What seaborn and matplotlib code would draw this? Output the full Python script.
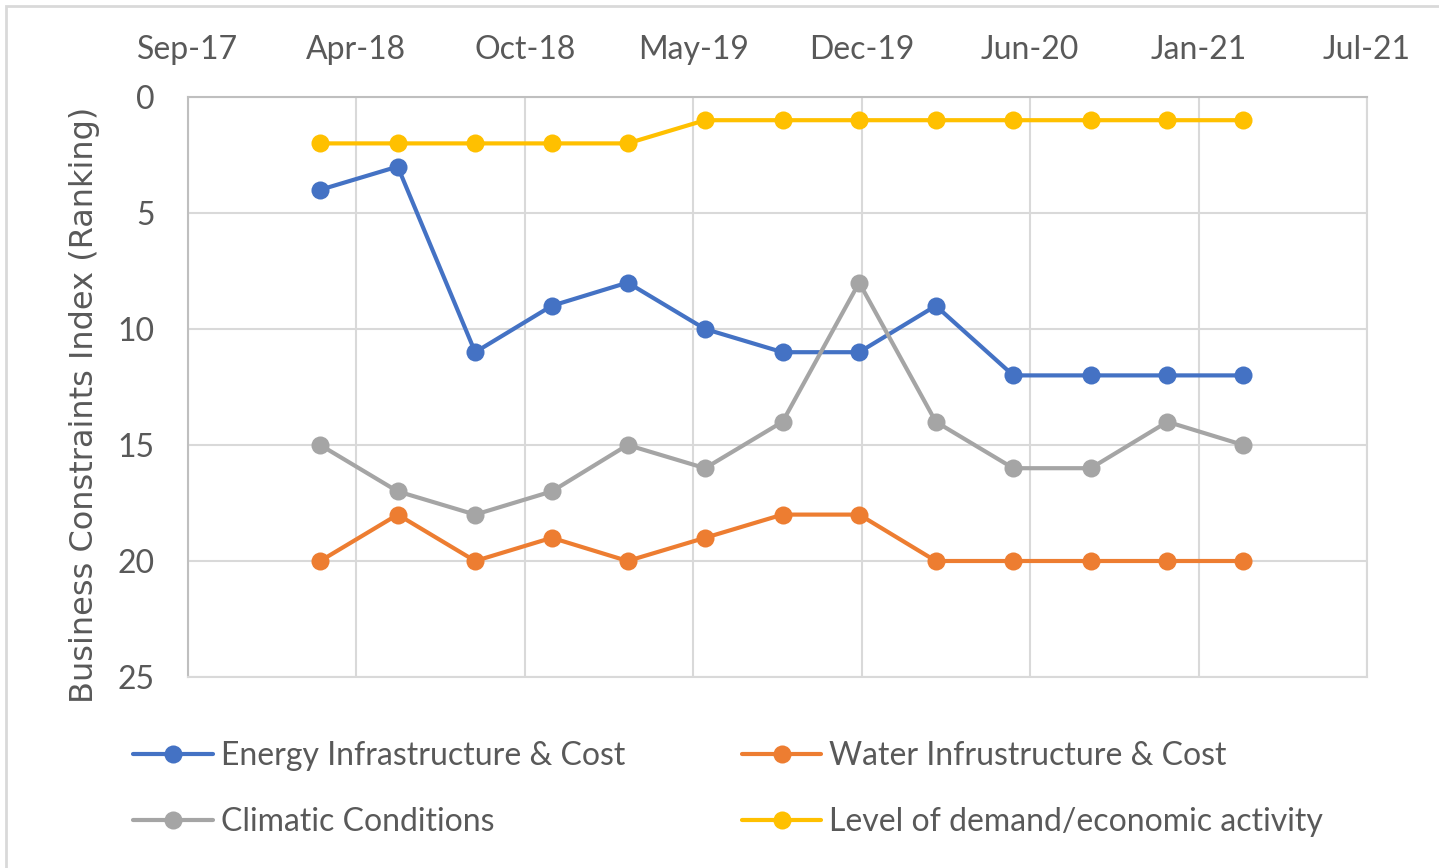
import pandas as pd
import numpy as np
import matplotlib
matplotlib.use("Agg")
import matplotlib.pyplot as plt
import matplotlib.dates as mdates
from matplotlib.patches import Rectangle
import seaborn as sns

# quarterly survey dates
dates = pd.date_range("2018-03-01", periods=13, freq="3MS")

energy = [4, 3, 11, 9, 8, 10, 11, 11, 9, 12, 12, 12, 12]
water = [20, 18, 20, 19, 20, 19, 18, 18, 20, 20, 20, 20, 20]
climatic = [15, 17, 18, 17, 15, 16, 14, 8, 14, 16, 16, 14, 15]
demand = [2, 2, 2, 2, 2, 1, 1, 1, 1, 1, 1, 1, 1]

series_names = [
    "Energy Infrastructure & Cost",
    "Water Infrustructure & Cost",
    "Climatic Conditions",
    "Level of demand/economic activity",
]
colors = ["#4472C4", "#ED7D31", "#A5A5A5", "#FFC000"]

# Excel style date axis: ticks every 200 days
tick_dates = pd.date_range("2017-09-25", periods=8, freq="200D")
y_ticks = [0, 5, 10, 15, 20, 25]

df = pd.DataFrame({
    "date": list(dates) * 4,
    "rank": energy + water + climatic + demand,
    "series": np.repeat(series_names, len(dates)),
})

sns.set_style("white")
plt.rcParams["font.family"] = ["Lato", "DejaVu Sans"]

fig = plt.figure(figsize=(14.39, 8.68), dpi=100)
ax = fig.add_axes([188 / 1439, 1 - 677 / 868, (1367 - 188) / 1439, (677 - 97) / 868])

sns.lineplot(
    data=df,
    x="date",
    y="rank",
    hue="series",
    hue_order=series_names,
    palette=colors,
    marker="o",
    markersize=13,
    markeredgewidth=0,
    linewidth=3,
    ax=ax,
    legend=False,
)

ax.set_xlim(tick_dates[0], tick_dates[-1])
ax.set_ylim(25, 0)
ax.set_xticks(tick_dates)
ax.xaxis.set_major_formatter(mdates.DateFormatter("%b-%y"))
ax.set_yticks(y_ticks)
ax.xaxis.tick_top()
ax.tick_params(axis="x", length=0, pad=23, labelsize=23, labelcolor="#595959")
ax.tick_params(axis="y", length=0, pad=24, labelsize=23, labelcolor="#595959")
ax.grid(True, color="#D9D9D9", linewidth=1.5)
ax.set_axisbelow(True)
ax.set_xlabel("")
ax.set_ylabel("Business Constraints Index (Ranking)", fontsize=23, color="#595959",
              family="DejaVu Sans")
ax.yaxis.set_label_coords(-0.075, 0.47)

for side in ["top", "left"]:
    ax.spines[side].set_color("#BFBFBF")
    ax.spines[side].set_linewidth(1.5)
for side in ["bottom", "right"]:
    ax.spines[side].set_color("#D9D9D9")
    ax.spines[side].set_linewidth(1.5)

# legend, row-wise like Excel
handles = [
    plt.Line2D([], [], color=c, linewidth=3, marker="o", markersize=13, markeredgewidth=0)
    for c in colors
]
order = [0, 2, 1, 3]
fig.legend(
    [handles[i] for i in order],
    [series_names[i] for i in order],
    ncol=2,
    loc="upper left",
    bbox_to_anchor=(104 / 1439, 1 - 712 / 868),
    frameon=False,
    fontsize=23,
    labelcolor="#595959",
    handlelength=2.5,
    handletextpad=0.25,
    columnspacing=3.65,
    labelspacing=1.15,
)

# chart area border
fig.patches.append(Rectangle((6 / 1439, -0.01), 1.02, 1 - 6 / 868 + 0.01,
                             transform=fig.transFigure, fill=False,
                             edgecolor="#D9D9D9", linewidth=2))

fig.savefig("out.png", dpi=100)
